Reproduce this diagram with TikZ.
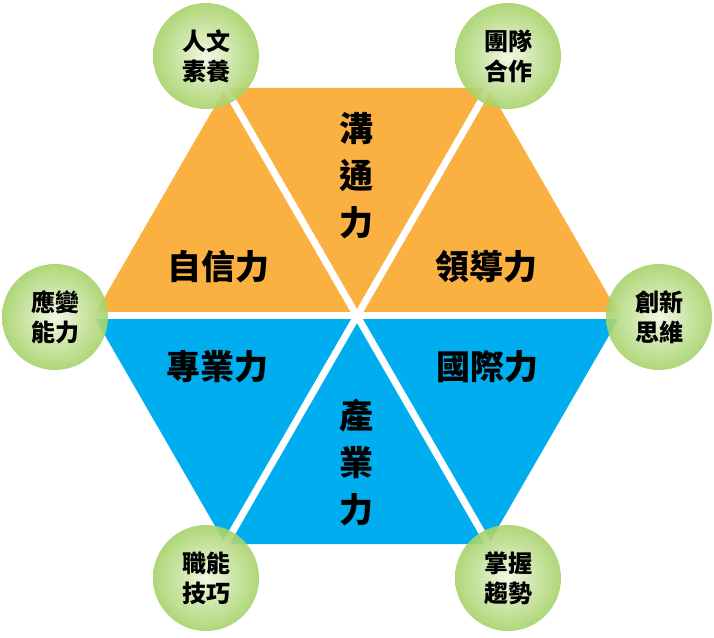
\documentclass[tikz,border=0pt]{standalone}
\usepackage{fontspec}
\newfontfamily\cjk{Noto Sans CJK TC}
\usetikzlibrary{positioning}
\definecolor{hexorange}{RGB}{251,176,66}
\definecolor{hexblue}{RGB}{0,174,239}
\definecolor{ballgreen}{RGB}{134,194,52}
\definecolor{balllight}{RGB}{240,247,226}
\pgfdeclareradialshading{ball}{\pgfpoint{0bp}{0bp}}{color(0bp)=(balllight); color(12bp)=(ballgreen!35!balllight); color(26bp)=(ballgreen!72!balllight); color(38bp)=(ballgreen); color(50bp)=(ballgreen!92!black)}

\begin{document}
\begin{tikzpicture}
  [
    x=1pt, y=1pt,
    ball/.style={circle, minimum size=106pt, shade, shading=ball, fill opacity=0.9, text opacity=1, align=center, font=\cjk\bfseries\fontsize{24}{30}\selectfont},
    big/.style={align=center, font=\cjk\bfseries\fontsize{34}{47}\selectfont},
    gap/.style={draw=white, line width=7pt}
    ]

  \useasboundingbox (0,0) rectangle (714,637);

  \coordinate (c) at (357,321);
  \coordinate (v0) at (620.3,321);
  \coordinate (v1) at (488.6,549);
  \coordinate (v2) at (225.4,549);
  \coordinate (v3) at (93.7,321);
  \coordinate (v4) at (225.4,93);
  \coordinate (v5) at (488.6,93);

  \fill[hexorange] (v0) -- (v1) -- (v2) -- (v3) -- cycle;
  \fill[hexblue] (v3) -- (v4) -- (v5) -- (v0) -- cycle;
  \draw[gap] (v0) -- (v3);
  \draw[gap] (v1) -- (v4);
  \draw[gap] (v2) -- (v5);

  \node[big] (t1) at (356,461) {溝\\通\\力};
  \node[big] (t2) at (218,370) {自信力};
  \node[big] (t3) at (486,370) {領導力};
  \node[big] (t4) at (217,270) {專業力};
  \node[big] (t5) at (487,270) {國際力};
  \node[big] (t6) at (356,175) {產\\業\\力};

  \node[ball] (1) at (206,581) {人文\\素養};
  \node[ball] (2) at (508,581) {團隊\\合作};
  \node[ball] (3) at (659,320) {創新\\思維};
  \node[ball] (4) at (508,59) {掌握\\趨勢};
  \node[ball] (5) at (206,59) {職能\\技巧};
  \node[ball] (6) at (55,320) {應變\\能力};
\end{tikzpicture}
\end{document}
